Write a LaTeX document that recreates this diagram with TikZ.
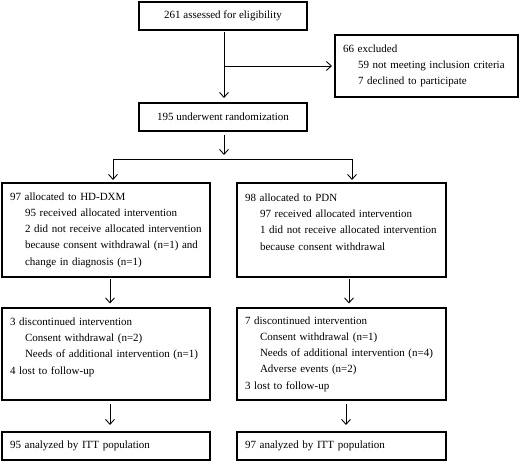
\documentclass[tikz,border=0pt]{standalone}
\usepackage{fontspec}
\setmainfont{Liberation Serif}
\usetikzlibrary{arrows.meta,positioning,calc}
\newcommand{\ind}{\hspace*{15pt}}

\begin{document}
\begin{tikzpicture}[x=1pt,y=1pt,
  box/.style={rectangle,draw,line width=1.1pt,outer sep=0pt,minimum height=28pt,align=center,font=\fontsize{11}{16.3}\selectfont},
  group/.style={box,align=left,inner xsep=8pt,text width=#1},
  group/.default=192pt,
  arr/.style={-{Straight Barb[length=5pt,width=9pt]},line width=0.9pt}
]
\useasboundingbox (0,0) rectangle (520,462);
% screening
\node[box,minimum width=168pt] (elig) at (223,446) {261 assessed for eligibility};
\node[box,minimum width=168pt,below=73pt of elig] (rand) {195 underwent randomization};
\node[group=167pt,minimum height=62pt] (excl) at (426.5,396) {66 excluded\\\ind 59 not meeting inclusion criteria\\\ind 7 declined to participate};
% allocation
\node[group,minimum width=208pt,minimum height=94pt] (la) at (106,232) {97 allocated to HD-DXM\\\ind 95 received allocated intervention\\\ind 2 did not receive allocated intervention\\\ind because consent withdrawal (n=1) and\\\ind change in diagnosis (n=1)};
\node[group=193pt,minimum width=209pt,minimum height=94pt,right=27pt of la] (ra) {98 allocated to PDN\\\ind 97 received allocated intervention\\\ind 1 did not receive allocated intervention\\\ind because consent withdrawal\\\mbox{}};
% follow-up
\node[group,minimum width=208pt,minimum height=92pt,below=31pt of la] (ld) {3 discontinued intervention\\\ind Consent withdrawal (n=2)\\\ind Needs of additional intervention (n=1)\\4 lost to follow-up\\\mbox{}};
\node[group=193pt,minimum width=209pt,minimum height=92pt,below=31pt of ra] (rd) {7 discontinued intervention\\\ind Consent withdrawal (n=1)\\\ind Needs of additional intervention (n=4)\\\ind Adverse events (n=2)\\3 lost to follow-up};
% analysis
\node[group,minimum width=208pt,inner xsep=6pt,below=32pt of ld] (lf) {95 analyzed by ITT population};
\node[group=193pt,minimum width=209pt,inner xsep=6pt,below=32pt of rd] (rf) {97 analyzed by ITT population};

\coordinate (split) at ($(rand.south)+(1,-28)$);
\coordinate (sl) at (113,303);
\coordinate (sr) at (352,303);

\draw[arr,shorten <=2pt,shorten >=5pt] ([xshift=1pt]elig.south) -- ([xshift=1pt]rand.north);
\draw[arr,shorten >=3pt] ([xshift=1pt]elig.south |- excl.west) -- (excl.west);
\draw[arr,shorten <=4pt,shorten >=4pt] ([xshift=1pt]rand.south) -- (split);
\draw[line width=0.9pt] (sl) -- (sr);
\draw[arr,shorten >=3pt] (sl) -- (sl |- la.north);
\draw[arr,shorten >=3pt] (sr) -- (sr |- ra.north);
\draw[arr,shorten <=2pt,shorten >=4.5pt] ([xshift=4pt]la.south) -- ([xshift=4pt]ld.north);
\draw[arr,shorten <=2pt,shorten >=4.5pt] ([xshift=7.5pt]ra.south) -- ([xshift=7.5pt]rd.north);
\draw[arr,shorten <=4pt,shorten >=7pt] ([xshift=4pt]ld.south) -- ([xshift=4pt]lf.north);
\draw[arr,shorten <=4pt,shorten >=7pt] ([xshift=4.5pt]rd.south) -- ([xshift=4.5pt]rf.north);
\end{tikzpicture}
\end{document}
